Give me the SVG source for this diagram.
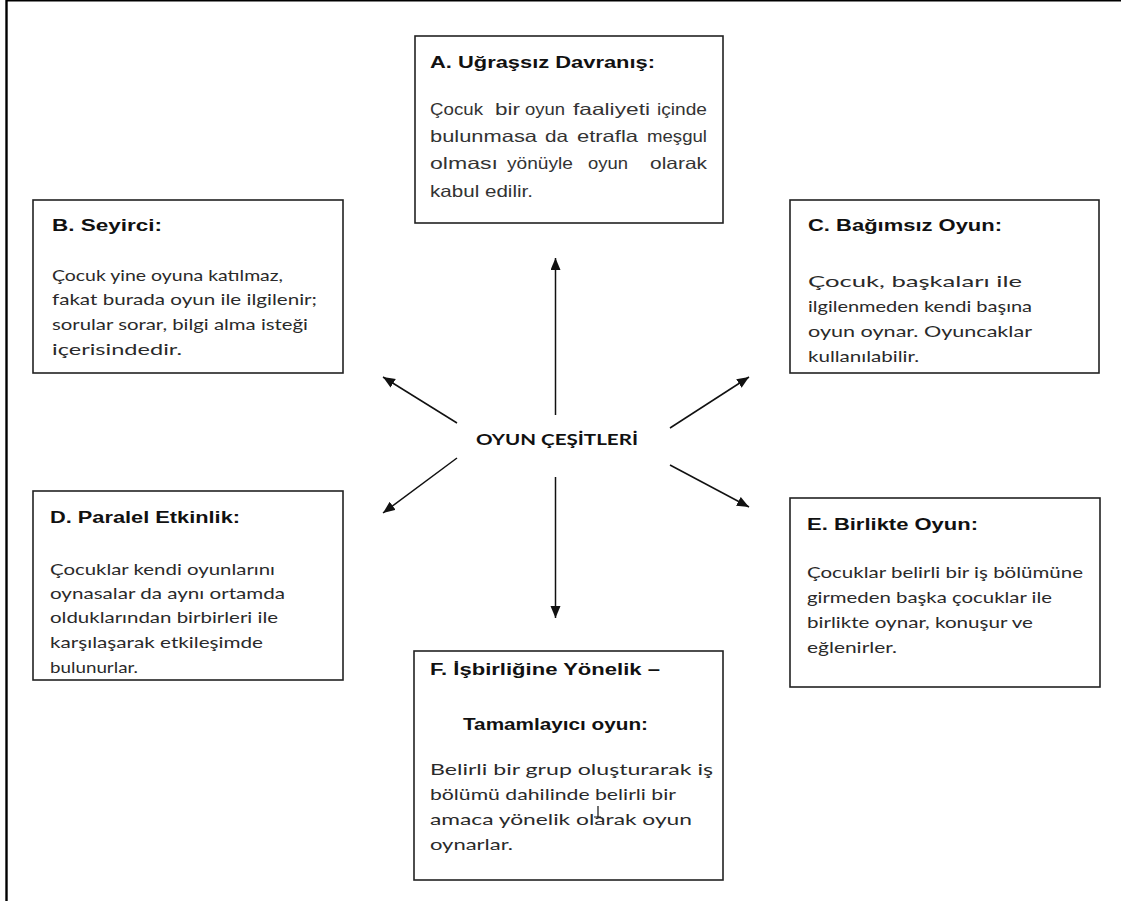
<svg xmlns="http://www.w3.org/2000/svg" width="1121" height="901" viewBox="0 0 1121 901">
<style>
.box{fill:#fff;stroke:#222;stroke-width:1.6}
.ttl{font-family:"Liberation Sans",Arial,sans-serif;font-weight:bold;font-size:16px;fill:#111}
.ba{font-family:"Liberation Sans",Arial,sans-serif;font-size:16.5px;fill:#333}
.bc{font-family:Lato,"Open Sans",sans-serif;font-size:15px;fill:#2a2a2a}
.ctr{font-family:Lato,"Open Sans",sans-serif;font-weight:bold;font-size:15px;fill:#111}
.conn line{stroke:#111;stroke-width:1.5;marker-end:url(#ah)}
</style>
<defs>
<marker id="ah" markerUnits="userSpaceOnUse" markerWidth="14" markerHeight="12" refX="12" refY="5" orient="auto">
<path d="M0,0 L12,5 L0,10 z" fill="#111"/>
</marker>
</defs>
<rect width="1121" height="901" fill="#fff"/>
<g id="frame">
<line x1="6" y1="0.8" x2="1121" y2="0.8" stroke="#000" stroke-width="1.6"/>
<line x1="6.5" y1="0" x2="6.5" y2="901" stroke="#000" stroke-width="2.4"/>
</g>
<g id="nodeA">
<rect class="box" x="415" y="36" width="308" height="187"/>
<text class="ttl" x="430" y="68" textLength="225" lengthAdjust="spacingAndGlyphs">A. Uğraşsız Davranış:</text>
<text class="ba" x="430" y="115" textLength="53" lengthAdjust="spacingAndGlyphs">Çocuk</text>
<text class="ba" x="495" y="115" textLength="25" lengthAdjust="spacingAndGlyphs">bir</text>
<text class="ba" x="525" y="115" textLength="40" lengthAdjust="spacingAndGlyphs">oyun</text>
<text class="ba" x="573" y="115" textLength="77" lengthAdjust="spacingAndGlyphs">faaliyeti</text>
<text class="ba" x="657" y="115" textLength="50" lengthAdjust="spacingAndGlyphs">içinde</text>
<text class="ba" x="430" y="142" textLength="107" lengthAdjust="spacingAndGlyphs">bulunmasa</text>
<text class="ba" x="545" y="142" textLength="23" lengthAdjust="spacingAndGlyphs">da</text>
<text class="ba" x="577" y="142" textLength="61" lengthAdjust="spacingAndGlyphs">etrafla</text>
<text class="ba" x="647" y="142" textLength="60" lengthAdjust="spacingAndGlyphs">meşgul</text>
<text class="ba" x="430" y="169" textLength="68" lengthAdjust="spacingAndGlyphs">olması</text>
<text class="ba" x="507" y="169" textLength="66" lengthAdjust="spacingAndGlyphs">yönüyle</text>
<text class="ba" x="588" y="169" textLength="40" lengthAdjust="spacingAndGlyphs">oyun</text>
<text class="ba" x="650" y="169" textLength="57" lengthAdjust="spacingAndGlyphs">olarak</text>
<text class="ba" x="430" y="197" textLength="103" lengthAdjust="spacingAndGlyphs">kabul edilir.</text>
</g>
<g id="nodeB">
<rect class="box" x="33" y="200" width="310" height="173"/>
<text class="ttl" x="52" y="231" textLength="110" lengthAdjust="spacingAndGlyphs">B. Seyirci:</text>
<text class="bc" x="52" y="281" textLength="231" lengthAdjust="spacingAndGlyphs">Çocuk yine oyuna katılmaz,</text>
<text class="bc" x="52" y="305" textLength="265" lengthAdjust="spacingAndGlyphs">fakat burada oyun ile  ilgilenir;</text>
<text class="bc" x="52" y="330" textLength="256" lengthAdjust="spacingAndGlyphs">sorular sorar, bilgi alma isteği</text>
<text class="bc" x="52" y="355" textLength="130" lengthAdjust="spacingAndGlyphs">içerisindedir.</text>
</g>
<g id="nodeC">
<rect class="box" x="790" y="200" width="309" height="173"/>
<text class="ttl" x="808" y="231" textLength="194" lengthAdjust="spacingAndGlyphs">C. Bağımsız Oyun:</text>
<text class="bc" x="808" y="287" textLength="214" lengthAdjust="spacingAndGlyphs">Çocuk, başkaları ile</text>
<text class="bc" x="808" y="312" textLength="224" lengthAdjust="spacingAndGlyphs">ilgilenmeden kendi başına</text>
<text class="bc" x="808" y="337" textLength="224" lengthAdjust="spacingAndGlyphs">oyun oynar. Oyuncaklar</text>
<text class="bc" x="808" y="362" textLength="111" lengthAdjust="spacingAndGlyphs">kullanılabilir.</text>
</g>
<g id="nodeD">
<rect class="box" x="33" y="491" width="310" height="189"/>
<text class="ttl" x="50" y="523" textLength="190" lengthAdjust="spacingAndGlyphs">D. Paralel Etkinlik:</text>
<text class="bc" x="50" y="575" textLength="225" lengthAdjust="spacingAndGlyphs">Çocuklar kendi oyunlarını</text>
<text class="bc" x="50" y="599" textLength="235" lengthAdjust="spacingAndGlyphs">oynasalar da aynı ortamda</text>
<text class="bc" x="50" y="623" textLength="228" lengthAdjust="spacingAndGlyphs">olduklarından birbirleri ile</text>
<text class="bc" x="50" y="648" textLength="213" lengthAdjust="spacingAndGlyphs">karşılaşarak etkileşimde</text>
<text class="bc" x="50" y="673" textLength="88" lengthAdjust="spacingAndGlyphs">bulunurlar.</text>
</g>
<g id="nodeE">
<rect class="box" x="790" y="498" width="310" height="189"/>
<text class="ttl" x="807" y="530" textLength="171" lengthAdjust="spacingAndGlyphs">E. Birlikte Oyun:</text>
<text class="bc" x="807" y="578" textLength="276" lengthAdjust="spacingAndGlyphs">Çocuklar belirli bir iş bölümüne</text>
<text class="bc" x="807" y="603" textLength="245" lengthAdjust="spacingAndGlyphs">girmeden başka çocuklar ile</text>
<text class="bc" x="807" y="628" textLength="226" lengthAdjust="spacingAndGlyphs">birlikte oynar, konuşur ve</text>
<text class="bc" x="807" y="653" textLength="90" lengthAdjust="spacingAndGlyphs">eğlenirler.</text>
</g>
<g id="nodeF">
<rect class="box" x="414" y="651" width="309" height="229"/>
<text class="ttl" x="430" y="675" textLength="230" lengthAdjust="spacingAndGlyphs">F. İşbirliğine Yönelik –</text>
<text class="ttl" x="463" y="730" textLength="185" lengthAdjust="spacingAndGlyphs">Tamamlayıcı oyun:</text>
<text class="bc" x="430" y="775" textLength="283" lengthAdjust="spacingAndGlyphs">Belirli bir grup oluşturarak iş</text>
<text class="bc" x="430" y="800" textLength="246" lengthAdjust="spacingAndGlyphs">bölümü dahilinde belirli bir</text>
<text class="bc" x="430" y="825" textLength="262" lengthAdjust="spacingAndGlyphs">amaca yönelik olarak oyun</text>
<text class="bc" x="430" y="850" textLength="83" lengthAdjust="spacingAndGlyphs">oynarlar.</text>
<path d="M598,806 V817 M594,817 H601" stroke="#111" stroke-width="1.2" fill="none"/>
</g>
<g id="center">
<text class="ctr" x="476" y="445" textLength="162" lengthAdjust="spacingAndGlyphs">OYUN ÇEŞİTLERİ</text>
</g>
<g id="connectors" class="conn">
<line x1="555.5" y1="415" x2="555.5" y2="258"/>
<line x1="555.5" y1="477" x2="555.5" y2="618"/>
<line x1="457" y1="423" x2="383" y2="377"/>
<line x1="457" y1="458" x2="383" y2="513"/>
<line x1="670" y1="428" x2="749" y2="377"/>
<line x1="670" y1="465" x2="749" y2="507"/>
</g>
</svg>
